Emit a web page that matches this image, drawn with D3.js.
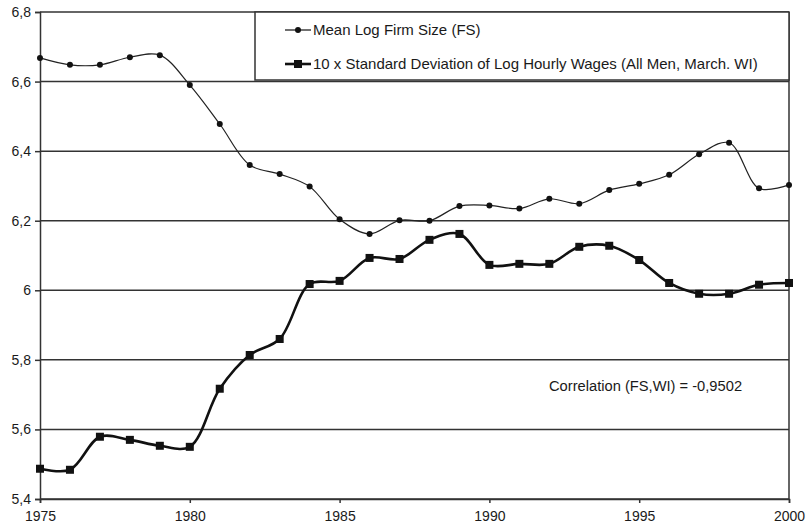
<!DOCTYPE html>
<html>
<head>
  <meta charset="utf-8">
  <title>Firm Size and Wage Inequality</title>
  <script src="https://d3js.org/d3.v7.min.js"></script>
  <style>
    body {
      margin: 0;
      background: #fff;
    }
    svg text {
      font-family: "Liberation Sans", Arial, sans-serif;
      fill: #1a1a1a;
    }
  </style>
</head>
<body>
  <div id="chart"></div>
  <script>
    // values
    var years = d3.range(1975, 2001);
    var firmSize = [6.668, 6.648, 6.648, 6.670, 6.676, 6.590, 6.478, 6.360, 6.334, 6.298,
                    6.204, 6.162, 6.201, 6.200, 6.242, 6.244, 6.235, 6.263, 6.249, 6.288,
                    6.306, 6.332, 6.391, 6.424, 6.293, 6.303];
    var wageSd = [5.487, 5.484, 5.579, 5.570, 5.553, 5.550, 5.717, 5.814, 5.860, 6.018,
                  6.027, 6.093, 6.090, 6.145, 6.162, 6.073, 6.076, 6.076, 6.125, 6.128,
                  6.087, 6.021, 5.990, 5.990, 6.016, 6.021];
    var yTicks = [5.4, 5.6, 5.8, 6.0, 6.2, 6.4, 6.6, 6.8];
    var xTicks = [1975, 1980, 1985, 1990, 1995, 2000];
    var legendLabels = ["Mean Log Firm Size (FS)",
                        "10 x Standard Deviation of Log Hourly Wages (All Men, March. WI)"];
    var note = "Correlation (FS,WI) = -0,9502";

    var svg = d3.select("#chart")
      .append("svg")
      .attr("width", 808)
      .attr("height", 531);

    var margin = {top: 12, right: 19, bottom: 32, left: 40};
    var width = 808 - margin.left - margin.right;
    var height = 531 - margin.top - margin.bottom;

    var x = d3.scaleLinear().domain([1975, 2000]).range([0, width]);
    var y = d3.scaleLinear().domain([5.4, 6.8]).range([height, 0]);

    var g = svg.append("g")
      .attr("transform", "translate(" + margin.left + "," + margin.top + ")");

    // horizontal grid lines
    g.selectAll(".grid")
      .data(yTicks)
      .enter()
      .append("line")
      .attr("class", "grid")
      .attr("x1", 0)
      .attr("x2", width)
      .attr("y1", function(d) { return y(d); })
      .attr("y2", function(d) { return y(d); })
      .attr("stroke", "#333")
      .attr("stroke-width", 1.5);

    // right border
    g.append("line")
      .attr("x1", width).attr("x2", width)
      .attr("y1", 0).attr("y2", height)
      .attr("stroke", "#333")
      .attr("stroke-width", 1.5);

    // decimal comma like the original
    var comma = function(d) { return String(+d.toFixed(1)).replace(".", ","); };

    // y axis
    var yAxis = g.append("g")
      .call(d3.axisLeft(y).tickValues(yTicks).tickFormat(comma).tickSize(5).tickPadding(4));
    yAxis.select(".domain").attr("stroke", "#333").attr("stroke-width", 1.5);
    yAxis.selectAll(".tick line").attr("stroke", "#333").attr("stroke-width", 1.5);
    yAxis.selectAll("text").style("font-size", "14px");

    // x axis
    var xAxis = g.append("g")
      .attr("transform", "translate(0," + height + ")")
      .call(d3.axisBottom(x).tickValues(xTicks).tickFormat(d3.format("d")).tickSize(4).tickPadding(8));
    xAxis.select(".domain").attr("stroke", "#333").attr("stroke-width", 1.5);
    xAxis.selectAll(".tick line").attr("stroke", "#333").attr("stroke-width", 1.5);
    xAxis.selectAll("text").style("font-size", "14px");

    var line = d3.line()
      .x(function(d, i) { return x(years[i]); })
      .y(function(d) { return y(d); })
      .curve(d3.curveCatmullRom.alpha(0.5));

    // firm size: thin line with round markers
    g.append("path")
      .datum(firmSize)
      .attr("d", line)
      .attr("fill", "none")
      .attr("stroke", "#222")
      .attr("stroke-width", 1.2);

    g.selectAll(".pt-fs")
      .data(firmSize)
      .enter()
      .append("circle")
      .attr("class", "pt-fs")
      .attr("cx", function(d, i) { return x(years[i]); })
      .attr("cy", function(d) { return y(d); })
      .attr("r", 3)
      .attr("fill", "#111");

    // wage dispersion: thick line with square markers
    g.append("path")
      .datum(wageSd)
      .attr("d", line)
      .attr("fill", "none")
      .attr("stroke", "#111")
      .attr("stroke-width", 2.6);

    g.selectAll(".pt-wi")
      .data(wageSd)
      .enter()
      .append("rect")
      .attr("class", "pt-wi")
      .attr("x", function(d, i) { return x(years[i]) - 4; })
      .attr("y", function(d) { return y(d) - 4; })
      .attr("width", 8)
      .attr("height", 8)
      .attr("fill", "#111");

    // legend box
    var legend = svg.append("g");
    legend.append("rect")
      .attr("x", 255)
      .attr("y", 12)
      .attr("width", 534)
      .attr("height", 68)
      .attr("fill", "#fff")
      .attr("stroke", "#333")
      .attr("stroke-width", 1.5);

    legendLabels.forEach(function(label, i) {
      var ly = 30 + i * 34;
      legend.append("line")
        .attr("x1", 285).attr("x2", 311)
        .attr("y1", ly).attr("y2", ly)
        .attr("stroke", "#111")
        .attr("stroke-width", i === 0 ? 1.2 : 2.6);
      if (i === 0) {
        legend.append("circle").attr("cx", 298).attr("cy", ly).attr("r", 3).attr("fill", "#111");
      } else {
        legend.append("rect").attr("x", 294).attr("y", ly - 4).attr("width", 8).attr("height", 8).attr("fill", "#111");
      }
      legend.append("text")
        .attr("x", 313)
        .attr("y", ly + 5)
        .style("font-size", "15px")
        .text(label);
    });

    // correlation note
    svg.append("text")
      .attr("x", 549)
      .attr("y", 391)
      .style("font-size", "14.7px")
      .text(note);
  </script>
</body>
</html>
